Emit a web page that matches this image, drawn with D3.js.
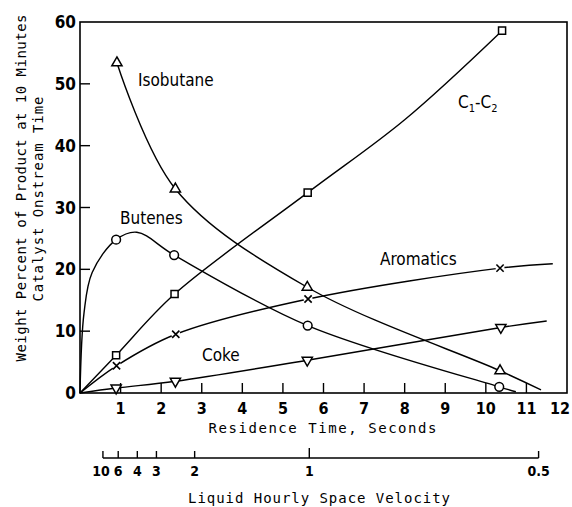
<!DOCTYPE html>
<html>
<head>
<meta charset="utf-8">
<script src="https://cdn.jsdelivr.net/npm/d3@7"></script>
<style>
  body { margin: 0; background: #fff; }
  svg { display: block; }
  .lbl { font-family: "Liberation Sans Narrow", "DejaVu Sans Condensed", "Arial Narrow", sans-serif; }
  .ttl { font-family: "DejaVu Sans Mono", "Liberation Mono", monospace; }
</style>
</head>
<body>
<svg id="chart" width="572" height="507"></svg>
<script>
// residence time (s) and weight percent
// mk flags which points carry a marker (others are curve start / end)
let isobutaneX = [0.91, 2.35, 5.6, 10.35, 11.36],
  isobutaneY = [53.4, 33.0, 17.1, 3.6, 0.5],
  isobutaneMk = [1, 1, 1, 1, 0];
let butenesX = [0, 0.1, 0.3, 0.89, 1.4, 2.32, 5.61, 10.33, 10.74],
  butenesY = [0, 13, 19.5, 24.8, 26.0, 22.3, 10.9, 1.0, 0.2],
  butenesMk = [0, 0, 0, 1, 0, 1, 1, 1, 0];
let c1c2X = [0, 0.89, 2.33, 5.61, 8, 10.4],
  c1c2Y = [0, 6.1, 16.0, 32.4, 44.2, 58.6],
  c1c2Mk = [0, 1, 1, 1, 0, 1];
let aromaticsX = [0, 0.9, 2.36, 5.62, 10.35, 11.65],
  aromaticsY = [0, 4.4, 9.5, 15.2, 20.2, 20.9],
  aromaticsMk = [0, 1, 1, 1, 1, 0];
let cokeX = [0, 0.89, 2.35, 5.6, 10.37, 11.5],
  cokeY = [0, 0.8, 1.9, 5.3, 10.6, 11.65],
  cokeMk = [0, 1, 1, 1, 1, 0];

let xTicks = [1, 2, 3, 4, 5, 6, 7, 8, 9, 10, 11, 12];
let yTicks = [0, 10, 20, 30, 40, 50, 60];
let lhsvTicks = [10, 6, 4, 3, 2, 1, 0.5];
let lhsvFactor = 5.65; // residence time x LHSV

let margin = { top: 22, right: 5, bottom: 114, left: 80 },
  width = 572 - margin.left - margin.right,
  height = 507 - margin.top - margin.bottom;

let svg = d3.select("#chart")
  .append("g")
  .attr("transform", "translate(" + margin.left + "," + margin.top + ")");

var x = d3.scaleLinear().domain([0, 12]).range([0, width]);
var y = d3.scaleLinear().domain([0, 60]).range([height, 0]);

// frame
svg.append("rect")
  .attr("x", 0).attr("y", 0)
  .attr("width", width).attr("height", height)
  .attr("fill", "none").attr("stroke", "#000").attr("stroke-width", 1.6);

// y ticks (inward)
svg.selectAll(".ytick").data(yTicks.slice(1, -1)).enter()
  .append("line")
  .attr("x1", 0).attr("x2", 10)
  .attr("y1", (d) => y(d)).attr("y2", (d) => y(d))
  .attr("stroke", "#000").attr("stroke-width", 1.4);
svg.selectAll(".ylab").data(yTicks).enter()
  .append("text")
  .attr("class", "lbl")
  .attr("x", -4).attr("y", (d) => y(d) + 6)
  .attr("text-anchor", "end")
  .attr("font-size", "17px").attr("font-weight", "bold")
  .text((d) => d);

// x ticks (inward)
svg.selectAll(".xtick").data(xTicks.slice(0, -1)).enter()
  .append("line")
  .attr("x1", (d) => x(d)).attr("x2", (d) => x(d))
  .attr("y1", height).attr("y2", height - 10)
  .attr("stroke", "#000").attr("stroke-width", 1.4);
svg.selectAll(".xlab").data(xTicks).enter()
  .append("text")
  .attr("class", "lbl")
  .attr("x", (d) => (d === 12 ? x(d) + 3 : x(d))).attr("y", height + 21)
  .attr("text-anchor", (d) => (d === 12 ? "end" : "middle"))
  .attr("font-size", "16px").attr("font-weight", "bold")
  .text((d) => d);

svg.append("text")
  .attr("class", "ttl")
  .attr("x", x(6) - 1).attr("y", height + 40)
  .attr("text-anchor", "middle")
  .attr("font-size", "14px")
  .attr("textLength", 228).attr("lengthAdjust", "spacing")
  .text("Residence Time, Seconds");

// second axis: liquid hourly space velocity
let lx = (v) => x(lhsvFactor / v);
let ly = height + 65;
svg.append("line")
  .attr("x1", lx(10)).attr("x2", lx(0.5))
  .attr("y1", ly).attr("y2", ly)
  .attr("stroke", "#000").attr("stroke-width", 1.4);
svg.selectAll(".ltick").data(lhsvTicks).enter()
  .append("line")
  .attr("x1", (d) => lx(d)).attr("x2", (d) => lx(d))
  .attr("y1", ly).attr("y2", (d) => (d === 1 ? ly - 10 : ly - 7))
  .attr("stroke", "#000").attr("stroke-width", 1.4);
svg.selectAll(".llab").data(lhsvTicks).enter()
  .append("text")
  .attr("class", "lbl")
  .attr("x", (d) => (d === 10 ? lx(d) - 2 : lx(d))).attr("y", ly + 18)
  .attr("text-anchor", "middle")
  .attr("font-size", "14px").attr("font-weight", "bold")
  .text((d) => d);
svg.append("text")
  .attr("class", "ttl")
  .attr("x", 239).attr("y", ly + 45)
  .attr("text-anchor", "middle")
  .attr("font-size", "14px")
  .attr("textLength", 262).attr("lengthAdjust", "spacing")
  .text("Liquid Hourly Space Velocity");

// y title
svg.append("text")
  .attr("class", "ttl")
  .attr("transform", "translate(-54," + 166 + ") rotate(-90)")
  .attr("text-anchor", "middle")
  .attr("font-size", "14px")
  .attr("textLength", 347).attr("lengthAdjust", "spacing")
  .text("Weight Percent of Product at 10 Minutes");
svg.append("text")
  .attr("class", "ttl")
  .attr("transform", "translate(-37," + 177 + ") rotate(-90)")
  .attr("text-anchor", "middle")
  .attr("font-size", "14px")
  .attr("textLength", 205).attr("lengthAdjust", "spacing")
  .text("Catalyst Onstream Time");

// series
let series = [
  { xs: isobutaneX, ys: isobutaneY, mk: isobutaneMk, sym: "up" },
  { xs: butenesX, ys: butenesY, mk: butenesMk, sym: "circle" },
  { xs: c1c2X, ys: c1c2Y, mk: c1c2Mk, sym: "square" },
  { xs: aromaticsX, ys: aromaticsY, mk: aromaticsMk, sym: "x" },
  { xs: cokeX, ys: cokeY, mk: cokeMk, sym: "down" },
];

var line = d3.line()
  .x((d) => x(d[0]))
  .y((d) => y(d[1]))
  .curve(d3.curveCatmullRom.alpha(0.5));

series.forEach(function (s) {
  let pts = s.xs.map((v, i) => [v, s.ys[i], s.mk[i]]);
  svg.append("path")
    .datum(pts)
    .attr("fill", "none")
    .attr("stroke", "#000")
    .attr("stroke-width", 1.4)
    .attr("d", line);

  let mks = pts.filter((p) => p[2] === 1);
  let g = svg.selectAll(null).data(mks).enter()
    .append("g")
    .attr("transform", (p) => "translate(" + x(p[0]) + "," + y(p[1]) + ")");
  if (s.sym === "x") {
    g.append("circle").attr("r", 4.5).attr("fill", "#fff");
    g.append("path")
      .attr("d", d3.symbol(d3.symbolTimes, 36))
      .attr("fill", "none").attr("stroke", "#000").attr("stroke-width", 1.6);
  } else {
    let type = s.sym === "circle" ? d3.symbolCircle
      : s.sym === "square" ? d3.symbolSquare : d3.symbolTriangle;
    let size = s.sym === "circle" ? 60 : s.sym === "square" ? 50 : 45;
    g.append("path")
      .attr("d", d3.symbol(type, size))
      .attr("transform", s.sym === "down" ? "rotate(180)" : null)
      .attr("fill", "#fff").attr("stroke", "#000").attr("stroke-width", 1.5);
  }
});

// curve labels
let labelSize = "17px";
svg.append("text").attr("class", "lbl").attr("x", 58).attr("y", 64)
  .attr("font-size", labelSize).text("Isobutane");
svg.append("text").attr("class", "lbl").attr("x", 40).attr("y", 202)
  .attr("font-size", labelSize).text("Butenes");
svg.append("text").attr("class", "lbl").attr("x", 122).attr("y", 339)
  .attr("font-size", labelSize).text("Coke");
svg.append("text").attr("class", "lbl").attr("x", 300).attr("y", 243)
  .attr("font-size", labelSize).text("Aromatics");
let c = svg.append("text").attr("class", "lbl").attr("x", 378).attr("y", 86)
  .attr("font-size", labelSize);
c.append("tspan").text("C");
c.append("tspan").attr("dy", 4).attr("font-size", "11px").text("1");
c.append("tspan").attr("dy", -4).text("-C");
c.append("tspan").attr("dy", 4).attr("font-size", "11px").text("2");
</script>
</body>
</html>
